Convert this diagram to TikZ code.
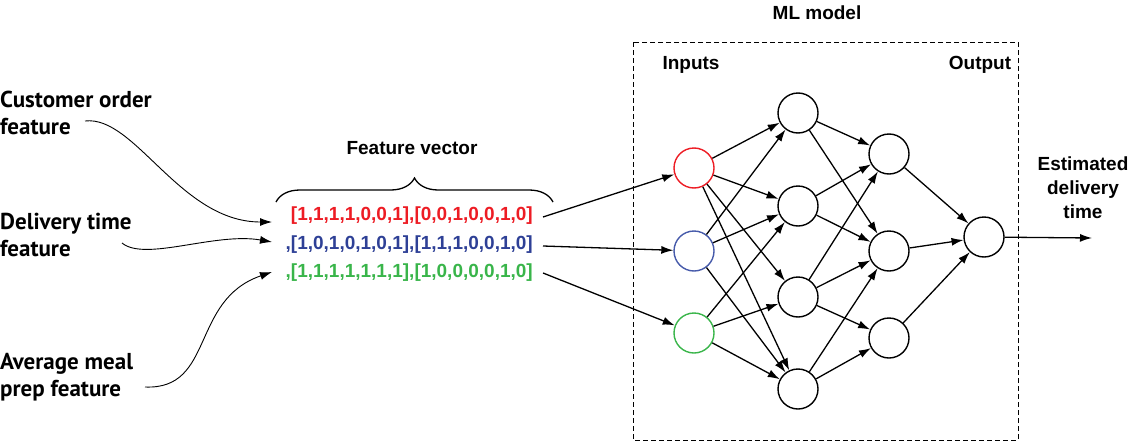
\documentclass[tikz,border=0pt]{standalone}
\usepackage{fontspec}
\setmainfont{Liberation Sans}
\newfontfamily\gillfont{PT Sans}
\usetikzlibrary{arrows.meta,decorations.pathreplacing}
\definecolor{vred}{RGB}{237,28,36}
\definecolor{vblue}{RGB}{46,64,150}
\definecolor{vgreen}{RGB}{57,181,74}
\definecolor{nblue}{RGB}{70,90,170}
\begin{document}
\begin{tikzpicture}[x=1pt,y=-1pt,
  neuron/.style={circle, draw, line width=1.4pt, minimum size=40pt, inner sep=0pt},
  conn/.style={-{Latex[length=12pt,width=8pt]}, line width=1.3pt},
  sans/.style={font=\bfseries\fontsize{19}{24}\selectfont, inner sep=0pt, align=center},
  lbl/.style={font=\gillfont\bfseries\fontsize{23}{27}\selectfont, align=left, inner sep=0pt, anchor=north west},
  vec/.style={font=\bfseries\fontsize{19}{23}\selectfont, inner sep=0pt, anchor=base east}]
\useasboundingbox (0,0) rectangle (1130,442);

% left labels
\node[lbl] (lab1) at (0,91) {Customer order\\feature};
\node[lbl] (lab2) at (0,213) {Delivery time\\feature};
\node[lbl] (lab3) at (0,353) {Average meal\\prep feature};

% feature vector
\node[vec, text=vred] (v1) at (533,220) {[1,1,1,1,0,0,1],[0,0,1,0,0,1,0]};
\node[vec, text=vblue] (v2) at (533,249) {,[1,0,1,0,1,0,1],[1,1,1,0,0,1,0]};
\node[vec, text=vgreen] (v3) at (533,277) {,[1,1,1,1,1,1,1],[1,0,0,0,0,1,0]};
\draw[line width=1.3pt, decorate, decoration={brace, amplitude=24pt}] (276,202) -- (553,202);
\node[sans] (fv) at (412,148) {Feature vector};

% curves into the vector
\coordinate (c1s) at (85,121);
\coordinate (c1e) at (272,222);
\coordinate (c2s) at (122,243);
\coordinate (c2e) at (272,242);
\coordinate (c3s) at (145,387);
\coordinate (c3e) at (272,272);
\draw[conn, line width=0.9pt] (c1s) .. controls (135,115) and (180,222) .. (c1e);
\draw[conn, line width=0.9pt] (c2s) .. controls (145,262) and (215,232) .. (c2e);
\draw[conn, line width=0.9pt] (c3s) .. controls (215,390) and (190,300) .. (c3e);

% model box
\draw[dash pattern=on 5pt off 3pt, line width=1pt] (633,42) rectangle (1018,440);
\node[sans] (ml) at (817,13) {ML model};
\node[sans] (inl) at (691,65) {Inputs};
\node[sans] (outl) at (980,65) {Output};

% neurons
\node[neuron, draw=vred] (i1) at (694,168) {};
\node[neuron, draw=nblue] (i2) at (694,251) {};
\node[neuron, draw=vgreen] (i3) at (694,333) {};
\node[neuron] (a1) at (798,113) {};
\node[neuron] (a2) at (798,206) {};
\node[neuron] (a3) at (798,297) {};
\node[neuron] (a4) at (798,389) {};
\node[neuron] (b1) at (889,154) {};
\node[neuron] (b2) at (889,251) {};
\node[neuron] (b3) at (889,338) {};
\node[neuron] (o) at (984,237) {};

% vector to inputs
\coordinate (v1o) at (543,217);
\coordinate (v2o) at (543,246);
\coordinate (v3o) at (543,273);
\draw[conn] (v1o) -- (i1);
\draw[conn] (v2o) -- (i2);
\draw[conn] (v3o) -- (i3);

% layer connections
\foreach \s/\t in {i1/a1,i1/a2,i1/a3,i1/a4,i2/a1,i2/a2,i2/a4,i3/a2,i3/a3,i3/a4,
  a1/b1,a1/b2,a2/b1,a2/b2,a3/b1,a3/b2,a3/b3,a4/b2,a4/b3,b1/o,b2/o,b3/o}
  \draw[conn] (\s) -- (\t);

\coordinate (oe) at (1092,238);
\draw[conn] (o) -- (oe);
\node[sans] (est) at (1083,188) {Estimated\\delivery\\time};
\end{tikzpicture}
\end{document}
